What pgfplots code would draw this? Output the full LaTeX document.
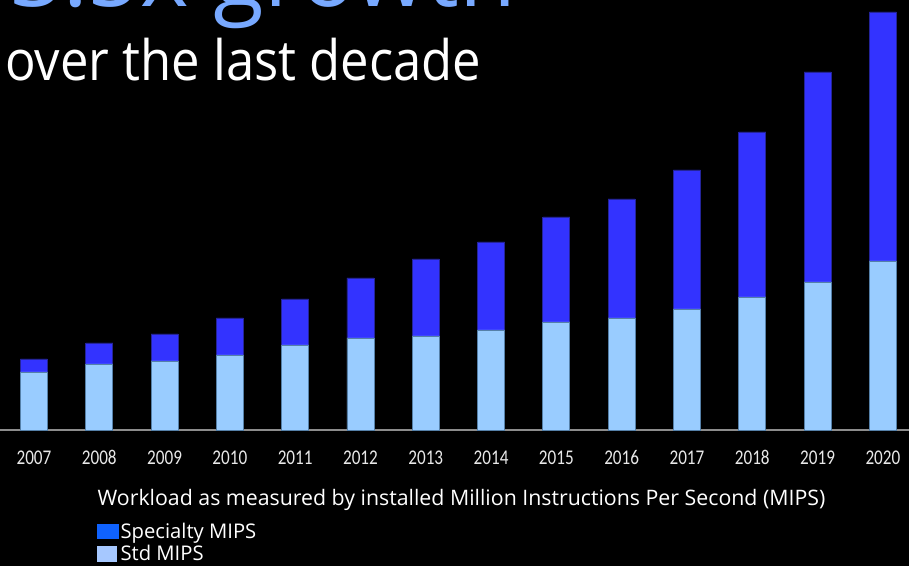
\documentclass[border=0pt]{standalone}
\usepackage{pgfplots}
\pgfplotsset{compat=1.18}
\usepackage{fontspec}
\setmainfont{Open Sans}
\newfontfamily\subfont[FakeStretch=0.91]{Open Sans}
\newfontfamily\tickfont[FakeStretch=0.82]{Carlito}
\definecolor{spec}{HTML}{3333FF}
\definecolor{specedge}{HTML}{24249A}
\definecolor{stdc}{HTML}{99CCFF}
\definecolor{stdedge}{HTML}{5580A8}
\definecolor{legspec}{HTML}{0F62FE}
\definecolor{legstd}{HTML}{A6C8FF}
\definecolor{titleblue}{HTML}{78A9FF}
\definecolor{axisgray}{HTML}{8C8C8C}
\definecolor{ticktext}{HTML}{E8E8E8}
\begin{document}
\begin{tikzpicture}[x=1bp,y=1bp]
\fill[black] (0,-136) rectangle (909,430);
\clip (0,-136) rectangle (909,430);
\node[anchor=base west, text=titleblue, font=\fontsize{93}{93}\selectfont, inner sep=0] at (10,423) {3.5x growth};
\node[anchor=base west, text=white, font=\subfont\fontsize{56}{56}\selectfont, inner sep=0] at (5,349) {over the last decade};
\begin{axis}[
  at={(0,0)}, anchor=south west,
  scale only axis, width=909bp, height=430bp,
  ybar stacked, bar width=27bp,
  xmin=-0.52, xmax=13.4, ymin=0, ymax=430,
  axis x line*=bottom, axis y line=none,
  axis line style={axisgray, line width=1.5bp, -},
  xtick=data,
  xticklabels={2007,2008,2009,2010,2011,2012,2013,2014,2015,2016,2017,2018,2019,2020},
  major tick length=0pt,
  xticklabel style={anchor=base, yshift=-35bp, text=ticktext, font=\tickfont\fontsize{21}{21}\selectfont},
  xlabel={Workload as measured by installed Million Instructions Per Second (MIPS)},
  xlabel style={at={(rel axis cs:0.5077,0)}, anchor=base, yshift=-75bp, text=white, font=\fontsize{21.4}{21.4}\selectfont},
  legend style={at={(rel axis cs:0.1067,0)}, anchor=north west, yshift=-91bp, draw=none, fill=none, text=white, font=\fontsize{20.3}{20.3}\selectfont, inner sep=0pt, row sep=1.5bp},
  legend cell align=left,
  clip=false,
]
\addplot[fill=stdc, draw=stdedge, line width=0.8bp, forget plot] coordinates {
(0,58) (1,66) (2,69) (3,75) (4,85) (5,92) (6,94) (7,100) (8,108) (9,112) (10,121) (11,133) (12,148) (13,169)};
\addplot[fill=spec, draw=specedge, line width=0.8bp, forget plot] coordinates {
(0,13) (1,21) (2,27) (3,37) (4,46) (5,60) (6,77) (7,88) (8,105) (9,119) (10,139) (11,165) (12,210) (13,249)};
\addlegendimage{legend image code/.code={\fill[legspec] (0bp,-7bp) rectangle (21bp,7bp);}}
\addlegendentry{Specialty MIPS}
\addlegendimage{legend image code/.code={\fill[legstd] (0bp,-7.5bp) rectangle (19bp,7.5bp);}}
\addlegendentry{Std MIPS}
\end{axis}
\end{tikzpicture}
\end{document}
